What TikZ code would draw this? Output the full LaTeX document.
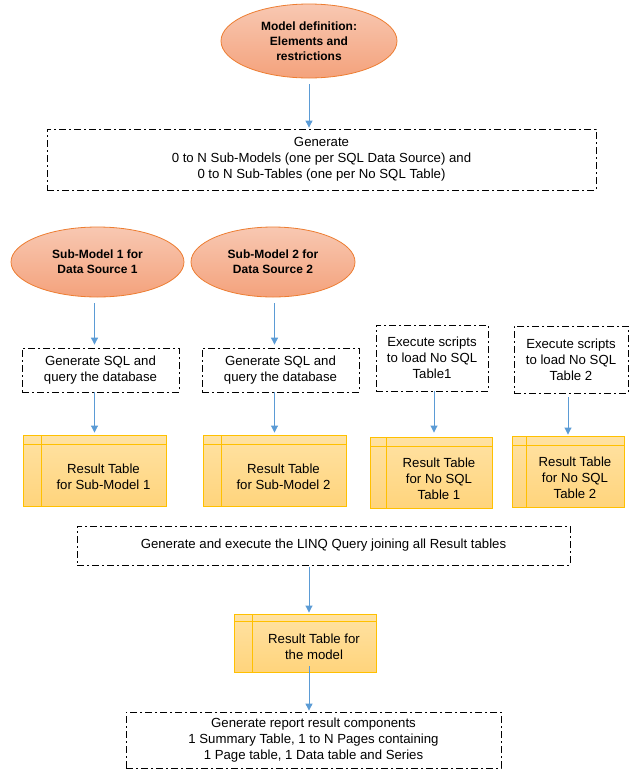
\documentclass[tikz,border=0pt]{standalone}
\usepackage{fontspec}
\setmainfont{Liberation Sans}
\usetikzlibrary{shapes.geometric,arrows.meta}
\definecolor{ellline}{HTML}{ED7D31}
\definecolor{elltop}{HTML}{F8C8B2}
\definecolor{ellbot}{HTML}{F4A27C}
\definecolor{tabtop}{HTML}{FFE2A3}
\definecolor{tabbot}{HTML}{FFD47C}
\definecolor{tabline}{HTML}{FFC000}
\definecolor{arr}{HTML}{5B9BD5}
\begin{document}
\begin{tikzpicture}[x=1pt,y=-1pt,
  font=\fontsize{13.2}{16}\selectfont,
  ell/.style={ellipse, draw=ellline, line width=0.8pt, top color=elltop, bottom color=ellbot,
    font=\fontsize{12}{15}\selectfont\bfseries, align=center, inner sep=0pt},
  proc/.style={draw=black, line width=0.8pt, dash pattern=on 7pt off 3pt on 2pt off 3pt,
    align=center, inner sep=0pt},
  tab/.style 2 args={draw=tabline, line width=0.9pt, top color=tabtop, bottom color=tabbot,
    inner sep=0pt, align=center,
    path picture={
      \draw[tabline, line width=0.9pt]
        ([yshift=-#1]path picture bounding box.north west) -- ([yshift=-#1]path picture bounding box.north east);
      \draw[tabline, line width=0.9pt]
        ([xshift=#2]path picture bounding box.north west) -- ([xshift=#2]path picture bounding box.south west);
    }},
  conn/.style={draw=arr, line width=0.9pt, -{Triangle[length=7pt,width=7pt]}}
]
\useasboundingbox (0,0) rectangle (635,780);

\node[ell, minimum width=176pt, minimum height=74pt] (top) at (309,41)
  {Model definition:\\Elements and\\restrictions};
\node[proc, minimum width=549pt, minimum height=61pt] (g1) at (321.5,159.5)
  {Generate\\0 to N Sub-Models (one per SQL Data Source) and\\0 to N Sub-Tables (one per No SQL Table)};

\node[ell, minimum width=173pt, minimum height=70pt] (e1) at (97.5,262)
  {Sub-Model 1 for\\Data Source 1};
\node[ell, minimum width=164pt, minimum height=70pt] (e2) at (273,262)
  {Sub-Model 2 for\\Data Source 2};

\node[proc, minimum width=157pt, minimum height=44pt] (s1) at (100.5,370)
  {Generate SQL and\\query the database};
\node[proc, minimum width=157pt, minimum height=44pt] (s2) at (280.5,370)
  {Generate SQL and\\query the database};
\node[proc, minimum width=112pt, minimum height=66pt] (x1) at (432,358)
  {Execute scripts\\to load No SQL\\Table1};
\node[proc, minimum width=114pt, minimum height=67pt] (x2) at (571,359.5)
  {Execute scripts\\to load No SQL\\Table 2};

\node[tab={9pt}{18pt}, minimum width=143pt, minimum height=71pt,
  label={[align=center,xshift=9pt,yshift=-6pt]center:Result Table\\for Sub-Model 1}] (t1) at (94.5,470.5) {};
\node[tab={9pt}{18pt}, minimum width=143pt, minimum height=71pt,
  label={[align=center,xshift=9pt,yshift=-6pt]center:Result Table\\for Sub-Model 2}] (t2) at (274.5,470.5) {};
\node[tab={9pt}{16pt}, minimum width=122pt, minimum height=71pt,
  label={[align=center,xshift=8pt,yshift=-6pt]center:Result Table\\for No SQL\\Table 1}] (t3) at (431,472.5) {};
\node[tab={9pt}{14pt}, minimum width=112pt, minimum height=71pt,
  label={[align=center,xshift=7pt,yshift=-6pt]center:Result Table\\for No SQL\\Table 2}] (t4) at (568,471.5) {};

\node[proc, minimum width=493pt, minimum height=39pt] (linq) at (323.5,545.5)
  {Generate and execute the LINQ Query joining all Result tables};

\node[tab={7pt}{18pt}, minimum width=142pt, minimum height=58pt,
  label={[align=center,xshift=9pt,yshift=-4pt]center:Result Table for\\the model}] (rm) at (305,643) {};

\node[proc, minimum width=375pt, minimum height=56pt] (fin) at (313.5,740)
  {Generate report result components\\1 Summary Table, 1 to N Pages containing\\1 Page table, 1 Data table and Series};

% connectors
\draw[conn, shorten <=6pt, shorten >=1pt] (top.south) -- (top.south |- g1.north);
\draw[conn, shorten <=6pt, shorten >=3pt] (e1.south -| t1.north) -- (s1.north -| t1.north);
\draw[conn, shorten <=6pt, shorten >=3pt] (e2.south -| t2.north) -- (s2.north -| t2.north);
\draw[conn, shorten >=2pt] (s1.south -| t1.north) -- (t1.north);
\draw[conn, shorten >=2pt] (s2.south -| t2.north) -- (t2.north);
\draw[conn, shorten >=4pt] ([xshift=2pt]x1.south) -- ([xshift=2pt]x1.south |- t3.north);
\draw[conn, shorten <=4pt, shorten >=1pt] (x2.south -| t4.north) -- (t4.north);
\draw[conn, shorten <=2pt, shorten >=1pt] ([xshift=4pt]linq.south -| rm.north) -- ([xshift=4pt]rm.north);
\draw[conn, shorten >=1pt] ([xshift=4pt,yshift=6pt]rm.south) -- ([xshift=4pt]rm.south |- fin.north);
\end{tikzpicture}
\end{document}
